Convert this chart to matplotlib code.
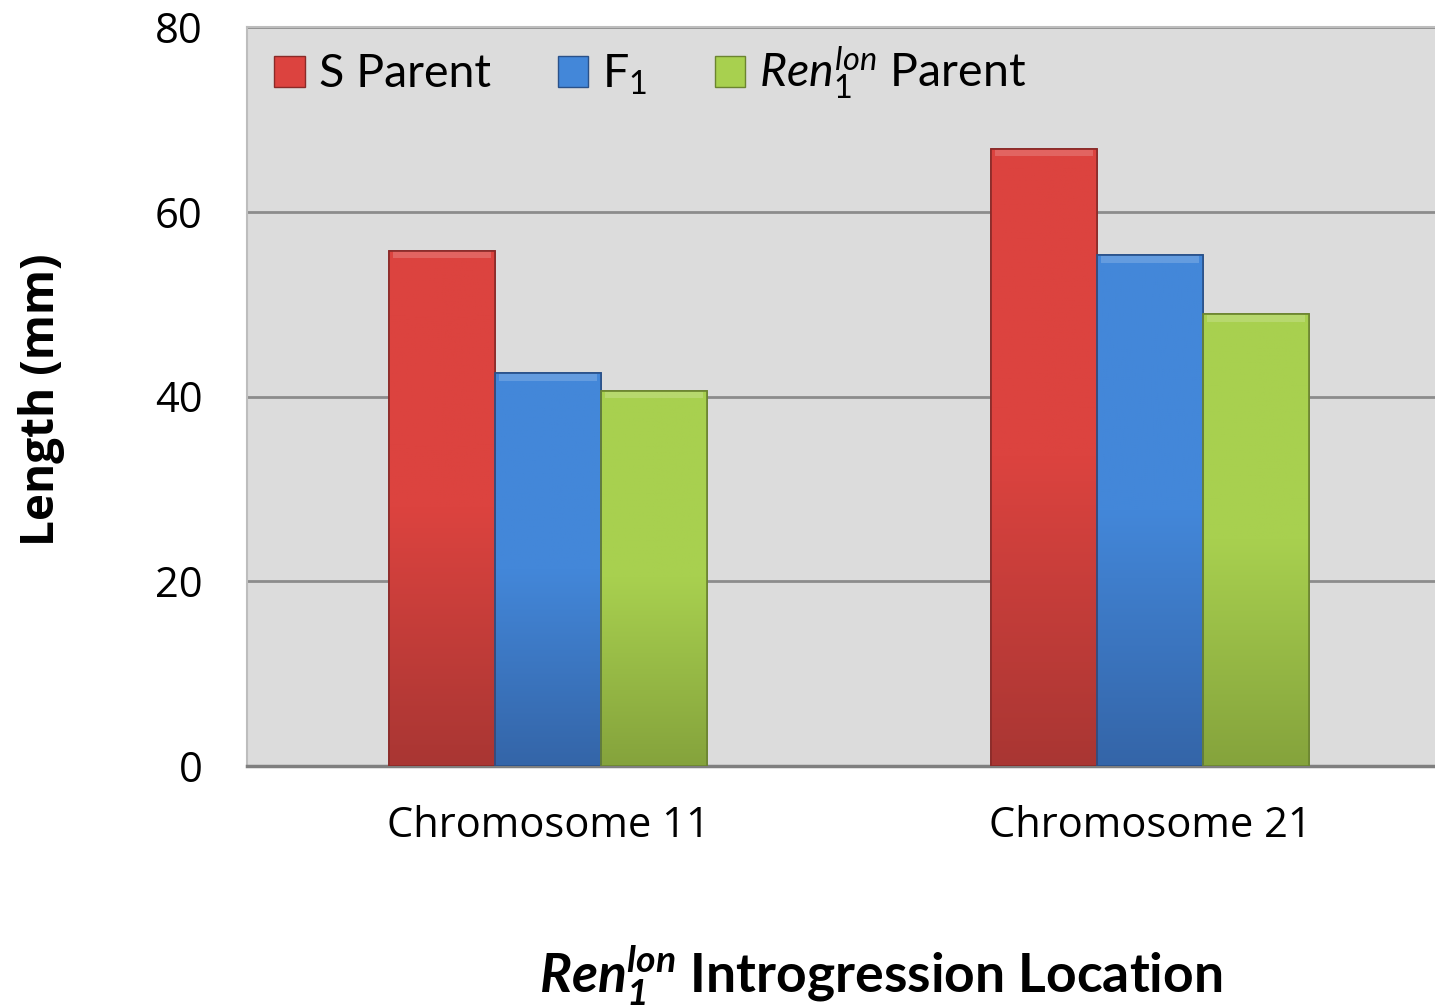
import numpy as np
import matplotlib.pyplot as plt
from matplotlib.colors import LinearSegmentedColormap
from matplotlib.patches import Patch

plt.rcParams['font.family'] = ['Open Sans', 'DejaVu Sans']
plt.rcParams['mathtext.fontset'] = 'custom'
plt.rcParams['mathtext.rm'] = 'Lato'
plt.rcParams['mathtext.it'] = 'Lato:italic'
plt.rcParams['mathtext.bf'] = 'Lato:bold'
plt.rcParams['mathtext.bfit'] = 'Lato:italic:bold'

# mean lengths per introgression location
locations = ['Chromosome 11', 'Chromosome 21']
s_parent = [55.8, 66.8]
f1 = [42.5, 55.3]
ren_parent = [40.6, 48.9]

series = [s_parent, f1, ren_parent]
labels = ['S Parent', r'F$_{\mathrm{1}}$', r'$\mathit{Ren}_{\mathit{1}}^{\mathit{lon}}$ Parent']
top_colors = ['#dc433f', '#4387d9', '#a8d04f']
bottom_colors = ['#a93633', '#3465a8', '#85a33c']
edge_colors = ['#8a2a28', '#2a5189', '#6b8430']

fig = plt.figure(figsize=(14.35, 10.07), dpi=100)
ax = fig.add_axes([247 / 1435, 1 - 766 / 1007, 1204 / 1435, 739 / 1007])
ax.set_facecolor('#dcdcdc')

x = np.arange(len(locations))
width = 0.176
offsets = [-width, 0, width]

for vals, off, c_top, c_bot, c_edge, lab in zip(series, offsets, top_colors,
                                                 bottom_colors, edge_colors, labels):
    bars = ax.bar(x + off, vals, width, color=c_top, edgecolor=c_edge,
                  linewidth=1.2, zorder=3, label=lab)
    cmap = LinearSegmentedColormap.from_list('g', [c_bot, c_top, c_top])
    for b in bars:
        x0, y0 = b.get_x(), b.get_y()
        w, h = b.get_width(), b.get_height()
        # vertical shading, lighter toward the top
        grad = np.linspace(0, 1, 256).reshape(-1, 1)
        im = ax.imshow(grad, cmap=cmap, origin='lower', aspect='auto',
                       extent=(x0, x0 + w, y0, y0 + h), zorder=3.5)
        im.set_clip_path(b)
        # bevel highlight on the top face
        ax.fill_between([x0 + w * 0.04, x0 + w * 0.96], y0 + h - 0.8, y0 + h - 0.1,
                        color='white', alpha=0.18, lw=0, zorder=3.6)
        ax.add_patch(plt.Rectangle((x0, y0), w, h, fill=False, ec=c_edge,
                                   lw=1.2, zorder=3.7))

ax.set_xlim(-0.5, 1.5)
ax.set_ylim(0, 80)
ax.set_yticks([0, 20, 40, 60, 80])
ax.set_xticks(x)
ax.set_xticklabels(locations)
ax.yaxis.grid(True, color='#8c8c8c', linewidth=2, zorder=1)
ax.set_axisbelow(True)
ax.tick_params(axis='y', length=0, pad=32, labelsize=30)
ax.tick_params(axis='x', length=0, pad=28, labelsize=30)

for side in ['left', 'top']:
    ax.spines[side].set_color('#bdbdbd')
    ax.spines[side].set_linewidth(1.5)
ax.spines['right'].set_visible(False)
ax.spines['bottom'].set_color('#7f7f7f')
ax.spines['bottom'].set_linewidth(2.5)

handles = [Patch(facecolor=c, edgecolor=e) for c, e in zip(top_colors, edge_colors)]
ax.legend(handles, labels, loc='upper left', bbox_to_anchor=(-0.012, 1.033), ncol=3,
          frameon=False, prop={'family': 'Lato', 'size': 33.5},
          handlelength=0.65, handleheight=0.65, handletextpad=0.3, columnspacing=1.45)

fig.text(42 / 1435, 1 - 400 / 1007, 'Length (mm)', rotation=90, ha='center',
         va='center', fontsize=33, fontweight='bold')
fig.text(881 / 1435, 1 - 975 / 1007,
         r'$\mathbfit{Ren}_{\mathbfit{1}}^{\mathbfit{lon}}$ Introgression Location',
         ha='center', va='center', fontsize=38.5, fontweight='bold', family='Lato')

fig.savefig('out.png', dpi=100, facecolor='white')
